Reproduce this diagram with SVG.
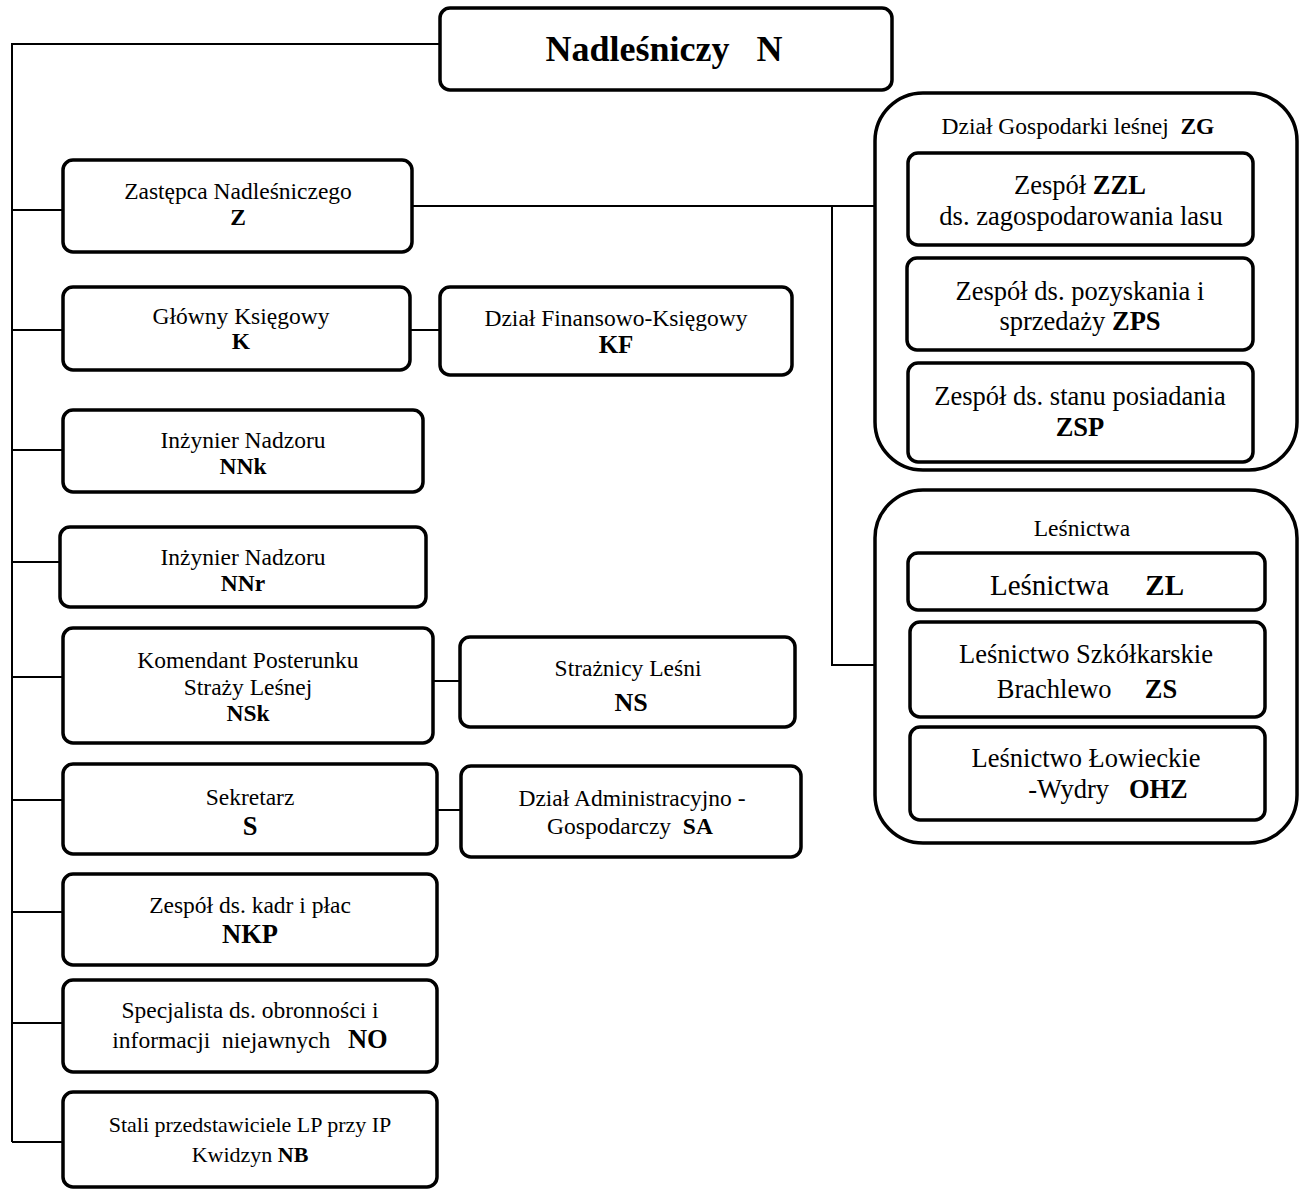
<svg xmlns="http://www.w3.org/2000/svg" width="1304" height="1189" viewBox="0 0 1304 1189">
<style>
.box{fill:#fff;stroke:#000;stroke-width:3.5}
.grp{fill:#fff;stroke:#000;stroke-width:3.5}
.ln{fill:none;stroke:#000;stroke-width:2}
text{font-family:"Liberation Serif","Times New Roman",serif;fill:#000;text-anchor:middle}
.s{font-size:23.5px}
.m{font-size:26.5px}
.l{font-size:29px}
.b{font-weight:bold}
</style>
<rect width="1304" height="1189" fill="#fff"/>
<g id="connectors">
<path class="ln" d="M440,44 H12 V1142"/>
<path class="ln" d="M12,210 H63 M12,330 H63 M12,450 H63 M12,562 H60 M12,677 H63 M12,800 H63 M12,912 H63 M12,1023 H63 M12,1142 H63"/>
<path class="ln" d="M410,330 H440 M433,681 H460 M437,810 H461"/>
<path class="ln" d="M412,206 H875 M832,206 V665 H875"/>
</g>
<g id="N">
<rect class="box" x="440" y="8" width="452" height="82" rx="10"/>
<text x="664" y="61" class="b" font-size="36" xml:space="preserve">Nadleśniczy   N</text>
</g>
<g id="Z">
<rect class="box" x="63" y="160" width="349" height="92" rx="10"/>
<text x="238" y="199" class="s">Zastępca Nadleśniczego</text>
<text x="238" y="225" class="s b">Z</text>
</g>
<g id="K">
<rect class="box" x="63" y="287" width="347" height="83" rx="10"/>
<text x="241" y="324" class="s">Główny Księgowy</text>
<text x="241" y="349" class="s b">K</text>
</g>
<g id="KF">
<rect class="box" x="440" y="287" width="352" height="88" rx="10"/>
<text x="616" y="326" class="s">Dział Finansowo-Księgowy</text>
<text x="616" y="353" class="b" font-size="25">KF</text>
</g>
<g id="NNk">
<rect class="box" x="63" y="410" width="360" height="82" rx="10"/>
<text x="243" y="448" class="s">Inżynier Nadzoru</text>
<text x="243" y="474" class="s b">NNk</text>
</g>
<g id="NNr">
<rect class="box" x="60" y="527" width="366" height="80" rx="10"/>
<text x="243" y="565" class="s">Inżynier Nadzoru</text>
<text x="243" y="591" class="s b">NNr</text>
</g>
<g id="NSk">
<rect class="box" x="63" y="628" width="370" height="115" rx="10"/>
<text x="248" y="668" class="s">Komendant Posterunku</text>
<text x="248" y="695" class="s">Straży Leśnej</text>
<text x="248" y="721" class="s b">NSk</text>
</g>
<g id="NS">
<rect class="box" x="460" y="637" width="335" height="90" rx="10"/>
<text x="628" y="676" class="s">Strażnicy Leśni</text>
<text x="631" y="711" class="b" font-size="26">NS</text>
</g>
<g id="S">
<rect class="box" x="63" y="764" width="374" height="90" rx="10"/>
<text x="250" y="805" class="s">Sekretarz</text>
<text x="250" y="835" class="m b">S</text>
</g>
<g id="SA">
<rect class="box" x="461" y="766" width="340" height="91" rx="10"/>
<text x="632" y="806" class="s">Dział Administracyjno -</text>
<text x="630" y="834" class="s" xml:space="preserve">Gospodarczy  <tspan class="b">SA</tspan></text>
</g>
<g id="NKP">
<rect class="box" x="63" y="874" width="374" height="91" rx="10"/>
<text x="250" y="913" class="s">Zespół ds. kadr i płac</text>
<text x="250" y="943" class="m b">NKP</text>
</g>
<g id="NO">
<rect class="box" x="63" y="980" width="374" height="92" rx="10"/>
<text x="250" y="1018" class="s">Specjalista ds. obronności i</text>
<text x="250" y="1048" class="s" xml:space="preserve">informacji  niejawnych   <tspan class="m b">NO</tspan></text>
</g>
<g id="NB">
<rect class="box" x="63" y="1092" width="374" height="95" rx="10"/>
<text x="250" y="1132" font-size="22">Stali przedstawiciele LP przy IP</text>
<text x="250" y="1162" font-size="22">Kwidzyn <tspan class="b">NB</tspan></text>
</g>
<g id="ZG">
<rect class="grp" x="875" y="93" width="422" height="377" rx="48"/>
<text x="1078" y="134" class="s" xml:space="preserve">Dział Gospodarki leśnej  <tspan class="b">ZG</tspan></text>
</g>
<g id="ZZL">
<rect class="box" x="908" y="153" width="345" height="92" rx="10"/>
<text x="1080" y="194" class="m">Zespół <tspan class="b">ZZL</tspan></text>
<text x="1081" y="225" class="m">ds. zagospodarowania lasu</text>
</g>
<g id="ZPS">
<rect class="box" x="907" y="258" width="346" height="92" rx="10"/>
<text x="1080" y="300" class="m">Zespół ds. pozyskania i</text>
<text x="1080" y="330" class="m">sprzedaży <tspan class="b">ZPS</tspan></text>
</g>
<g id="ZSP">
<rect class="box" x="908" y="363" width="345" height="99" rx="10"/>
<text x="1080" y="405" class="m">Zespół ds. stanu posiadania</text>
<text x="1080" y="436" class="m b">ZSP</text>
</g>
<g id="LES">
<rect class="grp" x="875" y="490" width="422" height="353" rx="48"/>
<text x="1082" y="536" class="s">Leśnictwa</text>
</g>
<g id="ZL">
<rect class="box" x="908" y="553" width="357" height="57" rx="10"/>
<text x="1087" y="595" class="l" xml:space="preserve">Leśnictwa     <tspan class="b">ZL</tspan></text>
</g>
<g id="ZS">
<rect class="box" x="910" y="622" width="355" height="95" rx="10"/>
<text x="1086" y="663" class="m">Leśnictwo Szkółkarskie</text>
<text x="1087" y="698" class="m" xml:space="preserve">Brachlewo     <tspan class="b">ZS</tspan></text>
</g>
<g id="OHZ">
<rect class="box" x="910" y="727" width="355" height="93" rx="10"/>
<text x="1086" y="767" class="m">Leśnictwo Łowieckie</text>
<text x="1108" y="798" class="m" xml:space="preserve">-Wydry   <tspan class="b">OHZ</tspan></text>
</g>
</svg>
